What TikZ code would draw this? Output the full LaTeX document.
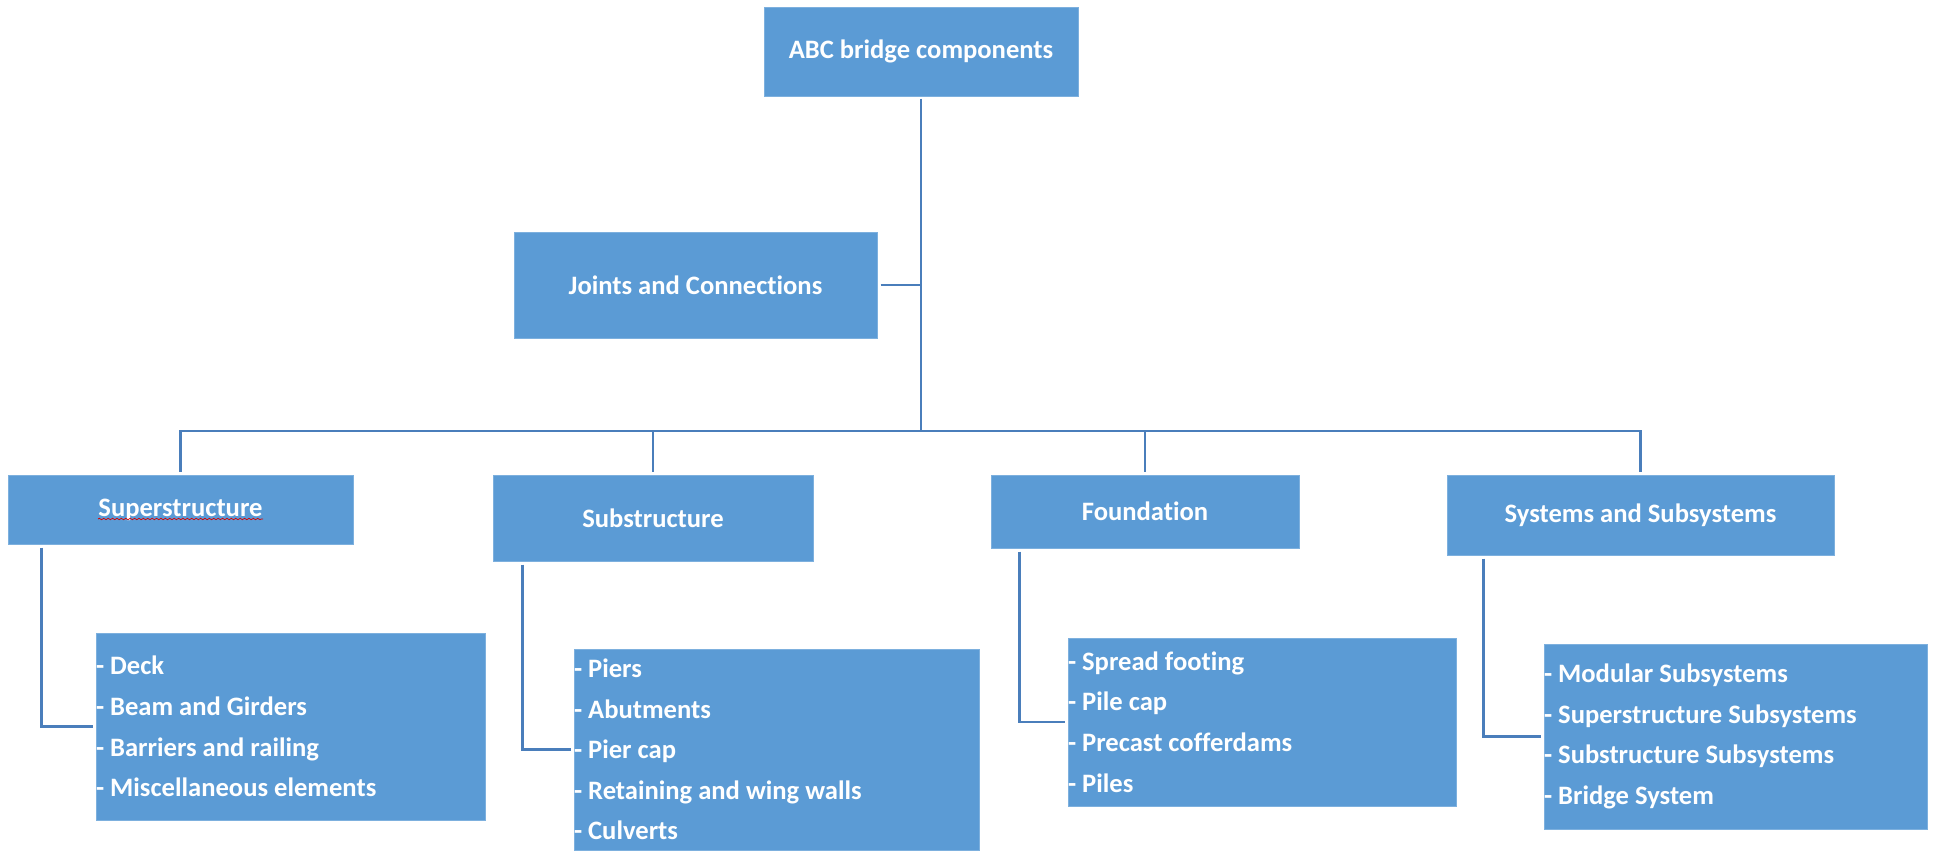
\documentclass[tikz,border=0pt]{standalone}
\usepackage{fontspec}
\setmainfont{Carlito}[Ligatures={NoCommon}]
\usetikzlibrary{decorations.pathmorphing}
\definecolor{boxblue}{HTML}{5B9BD5}
\definecolor{boxrim}{HTML}{7DB0DE}
\definecolor{linkblue}{HTML}{4A7EBB}
\newcommand\normsp{\spaceskip=0pt\xspaceskip=0pt\relax}
\tikzset{
  blk/.style={fill=boxblue, draw=boxrim, line width=0.5pt, text=white,
    font=\fontsize{13.3}{15}\selectfont\bfseries, inner sep=0pt, align=center},
  lst/.style={blk, align=left,
    font=\fontsize{13.3}{20.3}\selectfont\bfseries},
  link/.style={draw=linkblue, line width=1.4pt}
}
\begin{document}
\begin{tikzpicture}[x=0.5pt,y=-0.5pt]
\useasboundingbox (0,0) rectangle (1933,851);
% main boxes
\node[blk, minimum width=157pt, minimum height=44.5pt] (top) at (921,51.5) {ABC bridge components};
\node[blk, minimum width=181.5pt, minimum height=53pt] (jc) at (695.5,285) {Joints and Connections};
\node[blk, minimum width=172.5pt, minimum height=34.5pt] (sup) at (180.5,509.5) {Superstructure};
\node[blk, minimum width=160pt, minimum height=43pt] (sub) at (653,518) {Substructure};
\node[blk, minimum width=154pt, minimum height=36.5pt] (fou) at (1145,511.5) {Foundation};
\node[blk, minimum width=193.5pt, minimum height=40pt] (sys) at (1640.5,515) {Systems and Subsystems};
% list boxes
\node[lst, text width=194.5pt, minimum height=93.5pt] (l1) at (290.5,726.5)
  {\normsp- Deck\\- Beam and Girders\\- Barriers and railing\\- Miscellaneous elements};
\node[lst, text width=202.5pt, minimum height=100.5pt] (l2) at (776.5,749.5)
  {\normsp- Piers\\- Abutments\\- Pier cap\\- Retaining and wing walls\\- Culverts};
\node[lst, text width=194pt, minimum height=84pt] (l3) at (1262,722)
  {\normsp- Spread footing\\- Pile cap\\- Precast cofferdams\\- Piles};
\node[lst, text width=191.5pt, minimum height=92.5pt] (l4) at (1735.5,736.5)
  {\normsp- Modular Subsystems\\- Superstructure Subsystems\\- Substructure Subsystems\\- Bridge System};
% spell-check underline
\draw[red!85!black, line width=0.35pt, decorate,
  decoration={snake, amplitude=0.35pt, segment length=2.2pt}] (98,519) -- (263,519);
% connectors
\coordinate (bus) at (921,431);
\draw[link] ([yshift=-1pt]top.south) -- (bus);
\draw[link] ([xshift=1.5pt]jc.east) -- (jc.east -| bus);
\draw[link] ([yshift=1.5pt]sup.north) -- (sup.north |- bus) -- (sys.north |- bus) -- ([yshift=1.5pt]sys.north);
\draw[link] ([yshift=1.5pt]sub.north) -- (sub.north |- bus);
\draw[link] ([yshift=1.5pt]fou.north) -- (fou.north |- bus);
\draw[link] ([xshift=17pt,yshift=-1.5pt]sup.south west) |- ([xshift=-1.5pt]l1.west);
\draw[link] ([xshift=15pt,yshift=-1.5pt]sub.south west) |- ([xshift=-1.5pt]l2.west);
\draw[link] ([xshift=14.5pt,yshift=-1.5pt]fou.south west) |- ([xshift=-1.5pt]l3.west);
\draw[link] ([xshift=18.5pt,yshift=-1.5pt]sys.south west) |- ([xshift=-1.5pt]l4.west);
\end{tikzpicture}
\end{document}
